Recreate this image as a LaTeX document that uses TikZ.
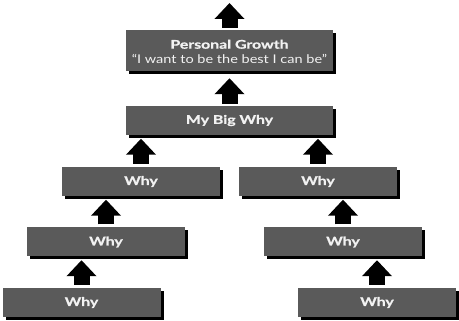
\documentclass[tikz,border=0pt]{standalone}
\usepackage{fontspec}
\setmainfont{Lato}[BoldFeatures={FakeStretch=1.32,FakeBold=0.8}]
\newfontfamily\quotefont{Lato}[FakeStretch=1.21]
\usetikzlibrary{arrows.meta,shadows}
\definecolor{boxgray}{HTML}{5A5A5A}
\definecolor{boxtext}{HTML}{F2F2F2}
\tikzset{
  whybox/.style={rectangle, fill=boxgray, text=boxtext,
    font=\fontsize{12}{16}\selectfont\bfseries,
    minimum width=158pt, minimum height=29pt, inner sep=0pt,
    drop shadow={shadow xshift=3pt, shadow yshift=-3pt, fill=black, opacity=1}},
  uparrow/.style={draw=black, line width=16pt,
    -{Triangle[width=29pt,length=16pt]},
    shorten <=3pt, shorten >=3.5pt}
}
\begin{document}
\begin{tikzpicture}[x=1pt,y=-1pt]
\useasboundingbox (0,0) rectangle (459,321);
\node[whybox, minimum width=207pt, minimum height=41pt, align=center] (PG) at (229.5,50.5)
  {\raisebox{-2.5pt}[\height][\depth]{\begin{tabular}{@{}c@{}}Personal Growth\\[-1pt]{\quotefont\mdseries\fontsize{12}{14}\selectfont “I want to be the best I can be”}\end{tabular}}};
\node[whybox, minimum width=207pt] (MBW) at (229.5,120.5) {My Big Why};
\node[whybox] (L1) at (141,181.5) {Why};
\node[whybox] (R1) at (318,181.5) {Why};
\node[whybox] (L2) at (106,242) {Why};
\node[whybox] (R2) at (343,242) {Why};
\node[whybox] (L3) at (81.5,302.5) {Why};
\node[whybox] (R3) at (377,302.5) {Why};
\coordinate (top) at (229.5,3);
\draw[uparrow, shorten <=2pt, shorten >=0pt] (PG.north) -- (top);
\draw[uparrow, shorten <=2pt, shorten >=7pt] (MBW.north) -- (MBW.north |- PG.south);
\draw[uparrow] (L1.north) -- (L1.north |- MBW.south);
\draw[uparrow] (R1.north) -- (R1.north |- MBW.south);
\draw[uparrow] (L2.north) -- (L2.north |- L1.south);
\draw[uparrow] (R2.north) -- (R2.north |- R1.south);
\draw[uparrow] (L3.north) -- (L3.north |- L2.south);
\draw[uparrow] (R3.north) -- (R3.north |- R2.south);
\end{tikzpicture}
\end{document}
